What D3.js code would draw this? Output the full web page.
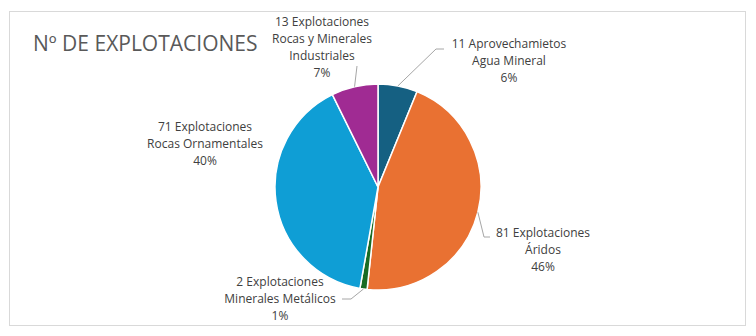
<!DOCTYPE html>
<html><head><meta charset="utf-8">
<script src="https://cdn.jsdelivr.net/npm/d3@7"></script>
<style>body{margin:0;background:#fff;}svg{display:block;font-family:"Open Sans",sans-serif;}</style>
</head><body><div id="chart"></div>
<script>
const title = "Nº DE EXPLOTACIONES";
const categories = ["Agua Mineral","Áridos","Minerales Metálicos","Rocas Ornamentales","Rocas y Minerales Industriales"];
const values = [11, 81, 2, 71, 13];
const labelLines = [
  ["11 Aprovechamietos","Agua Mineral"],
  ["81 Explotaciones","Áridos"],
  ["2 Explotaciones","Minerales Metálicos"],
  ["71 Explotaciones","Rocas Ornamentales"],
  ["13 Explotaciones","Rocas y Minerales","Industriales"]
];
const colors = ["#156082","#E97132","#196B24","#0F9ED5","#A02B93"];

const W=756,H=336;
const svg=d3.select("#chart").append("svg").attr("width",W).attr("height",H);
svg.append("rect").attr("x",9.5).attr("y",11.5).attr("width",736).attr("height",314)
  .attr("fill","#fff").attr("stroke","#d9d9d9").attr("stroke-width",1);
svg.append("text").attr("x",33).attr("y",51).text(title)
  .attr("font-size",21).attr("fill","#595959");

const cx=378, cy=187, R=103;
const total=d3.sum(values);
const pie=d3.pie().sort(null).value(d=>d)(values);
const arc=d3.arc().innerRadius(0).outerRadius(R);
const g=svg.append("g").attr("transform",`translate(${cx},${cy})`);
g.selectAll("path").data(pie).join("path").attr("d",arc)
  .attr("fill",(d,i)=>colors[i]).attr("stroke","#fff").attr("stroke-width",1.5);

// label layout (anchor center x, first-line center y) and leader elbows
const layout=[
  {x:509,y:44,elbow:[[436,49],[444,49]]},
  {x:543,y:233,elbow:[[484,237],[490,237]]},
  {x:280,y:282,elbow:[[351,299],[342,299]]},
  {x:205,y:127,elbow:null},
  {x:322,y:22,elbow:[[357,66]]}
];
const lh=17;
pie.forEach((d,i)=>{
  const a=(d.startAngle+d.endAngle)/2;
  const px=cx+R*Math.sin(a), py=cy-R*Math.cos(a);
  const L=layout[i];
  if(L.elbow){
    const pts=[[px,py],...L.elbow];
    svg.append("path").attr("d",d3.line()(pts)).attr("fill","none")
      .attr("stroke","#a6a6a6").attr("stroke-width",1);
  }
  const lines=[...labelLines[i], Math.round(values[i]/total*100)+"%"];
  const t=svg.append("text").attr("text-anchor","middle").attr("font-size",12).attr("fill","#404040");
  lines.forEach((s,k)=>{
    t.append("tspan").attr("x",L.x).attr("y",L.y+k*lh).attr("dy","0.35em").text(s);
  });
});
</script></body></html>
